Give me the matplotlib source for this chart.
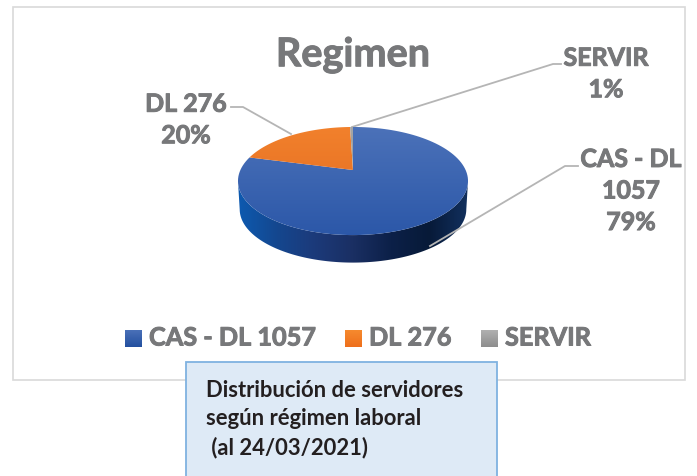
import numpy as np
import matplotlib
matplotlib.use('Agg')
import matplotlib.pyplot as plt
import matplotlib.patheffects as pe
from matplotlib.colors import LinearSegmentedColormap
from matplotlib.patches import Polygon, Rectangle

plt.rcParams['font.family'] = ['Lato', 'DejaVu Sans']

# Datos del grafico (las etiquetas van redondeadas, SERVIR se ve muy fino)
categorias = ['CAS - DL 1057', 'DL 276', 'SERVIR']
valores = [79.1, 20.4, 0.5]
etiquetas = ['CAS - DL\n1057\n79%', 'DL 276\n20%', 'SERVIR\n1%']
titulo = 'Regimen'
nota = 'Distribución de servidores\nsegún régimen laboral\n (al 24/03/2021)'

GRIS = '#77787a'
GRUESO = [pe.withStroke(linewidth=0.7, foreground=GRIS)]

fig = plt.figure(figsize=(6.97, 4.77), dpi=100)
ax = fig.add_axes([0, 0, 1, 1])


# Punto de la tapa del pastel en perspectiva; angulo en grados desde arriba, horario
def punto_tapa(angulo, escala=1.0, dy=0):
    t = np.radians(angulo)
    X, Y = np.sin(t), np.cos(t)
    w = 1 + 0.204 * Y
    return 353 + escala * 112.6 * X / w, 171 - escala * 51.8 * Y / w + dy


def rellenar(patch, colores, horizontal=False, extent=None):
    cmap = LinearSegmentedColormap.from_list('g', colores)
    grad = np.linspace(0, 1, 256).reshape(1, -1) if horizontal else np.linspace(0, 1, 256).reshape(-1, 1)
    ax.add_patch(patch)
    im = ax.imshow(grad, cmap=cmap, extent=extent, origin='upper', aspect='auto', zorder=patch.get_zorder())
    im.set_clip_path(patch)


# Marco del grafico
ax.add_patch(Rectangle((13, 8), 672, 373, facecolor='white', edgecolor='#d9d9d9', lw=1.2, zorder=1))

# Lateral del cilindro
angs = np.linspace(0, 360, 400)
arriba = np.array([punto_tapa(a) for a in angs])
abajo = np.array([punto_tapa(a, 0.985, 28.5) for a in angs])
izq = arriba[:, 0].argmin()
der = arriba[:, 0].argmax()
borde_sup = arriba[der:izq + 1]
borde_inf = abajo[der:izq + 1][::-1]
lateral = Polygon(np.vstack([borde_sup, borde_inf]), closed=True, facecolor='none', edgecolor='none', zorder=3)
rellenar(lateral, ['#0d5ab0', '#14478f', '#1c3a7a', '#1a2f63', '#0c2048', '#071a38', '#12305e'],
         horizontal=True, extent=(238, 468, 265, 180))

# Sectores de la tapa
colores_tapa = [['#4c72b9', '#2b57a8'], ['#f2812c', '#e0681f'], ['#a6a6a6', '#8a8a8a']]
inicio = 0
for valor, cols in zip(valores, colores_tapa):
    fin = inicio + valor * 3.6
    a = np.linspace(inicio, fin, 120)
    puntos = [(353, 171)] + [punto_tapa(x) for x in a]
    sector = Polygon(puntos, closed=True, facecolor='none', edgecolor='none', zorder=4)
    rellenar(sector, cols, extent=(238, 468, 238, 126))
    inicio = fin

# Lineas guia
ax.plot([352, 553, 561], [128, 65, 65], color='#b5b5b5', lw=1.3, zorder=2)
ax.plot([231, 243, 291], [108, 108, 135], color='#b5b5b5', lw=1.3, zorder=2)
ax.plot([430, 565, 578], [247, 167, 167], color='#b5b5b5', lw=1.3, zorder=5)

# Titulo y etiquetas
ax.text(353, 56, titulo, color=GRIS, fontsize=28.5, fontweight='bold', ha='center', va='center', zorder=6,
        path_effects=GRUESO)
ax.text(631, 192, etiquetas[0], color=GRIS, fontsize=18, fontweight='bold', ha='center', va='center',
        linespacing=1.45, zorder=6, path_effects=GRUESO)
ax.text(186, 121, etiquetas[1], color=GRIS, fontsize=18, fontweight='bold', ha='center', va='center',
        linespacing=1.45, zorder=6, path_effects=GRUESO)
ax.text(606, 75, etiquetas[2], color=GRIS, fontsize=18, fontweight='bold', ha='center', va='center',
        linespacing=1.45, zorder=6, path_effects=GRUESO)

# Leyenda
leyenda_x = [125, 345, 481]
colores_ley = [['#4a70b8', '#23509f'], ['#f68a2e', '#ee6f1c'], ['#b0b0b0', '#8e8e8e']]
for x, cat, cols in zip(leyenda_x, categorias, colores_ley):
    cuadro = Rectangle((x, 331), 17, 17, facecolor='none', edgecolor='none', zorder=6)
    rellenar(cuadro, cols, extent=(x, x + 17, 348, 331))
    ax.text(x + 24, 339, cat, color=GRIS, fontsize=18.2, fontweight='bold', ha='left', va='center', zorder=6,
            path_effects=GRUESO)

# Cuadro de texto inferior
ax.add_patch(Rectangle((186, 363), 311, 120, facecolor='#deeaf6', edgecolor='#7fb2e0', lw=1.3, zorder=7))
ax.text(206, 419, nota, color='#231f20', fontsize=15.8, fontweight='bold', ha='left', va='center',
        linespacing=1.42, zorder=8)

ax.set_xlim(0, 697)
ax.set_ylim(477, 0)
ax.axis('off')

plt.savefig('out.png', dpi=100)
plt.close()
